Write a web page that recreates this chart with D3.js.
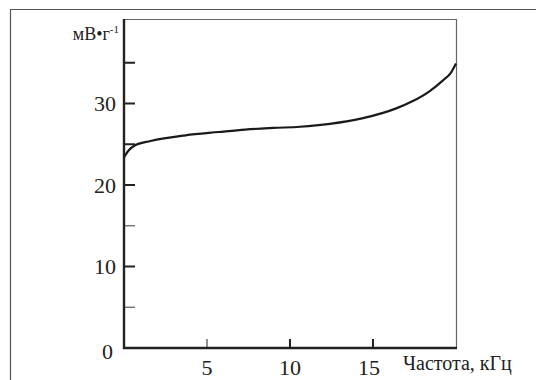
<!DOCTYPE html>
<html>
<head>
<meta charset="utf-8">
<script src="https://cdn.jsdelivr.net/npm/d3@7"></script>
<style>
  body { margin: 0; background: #fff; }
</style>
</head>
<body>
<div id="plot"></div>
<script>
// Frequency response
const freq   = [0,    0.3,  0.7,  1.6,  3.7,  5.7,  7.3,  9,    10.6,  12.4, 14.4, 16.4, 17.4, 18.4, 19.2, 19.7, 20];
const signal = [23.4, 24.3, 24.9, 25.4, 26.1, 26.5, 26.8, 27.0, 27.15, 27.5, 28.2, 29.4, 30.3, 31.5, 32.8, 33.8, 34.9];

const yLabelTicks = [0, 10, 20, 30];
const yMajorTicks = [10, 20, 25, 30, 35];
const yMinorTicks = [5, 15];
const xLabelTicks = [5, 10, 15];

const W = 536, H = 380;
const plotLeft = 124, plotRight = 456, plotTop = 19, plotBottom = 348;
const serif = "'Liberation Serif', 'Times New Roman', 'DejaVu Serif', serif";

const svg = d3.select("#plot")
  .append("svg")
  .attr("width", W)
  .attr("height", H)
  .attr("font-family", serif);

// outer frame (cut off on right and bottom)
svg.append("path")
  .attr("d", `M10.5,${H + 5}V9.5H${W + 5}`)
  .attr("fill", "none")
  .attr("stroke", "#555")
  .attr("stroke-width", 1.2);

const x = d3.scaleLinear().domain([0, 20]).range([plotLeft, plotRight]);
const y = d3.scaleLinear().domain([0, 40]).range([plotBottom, 22]);

// top and right thin frame
svg.append("path")
  .attr("d", `M${plotLeft},${plotTop + 0.5}H${plotRight + 0.5}V${plotBottom}`)
  .attr("fill", "none")
  .attr("stroke", "#666")
  .attr("stroke-width", 1.2);

// y ticks (inward)
svg.selectAll(".ymaj")
  .data(yMajorTicks)
  .enter().append("line")
  .attr("x1", plotLeft).attr("x2", plotLeft + 11)
  .attr("y1", d => y(d)).attr("y2", d => y(d))
  .attr("stroke", "#222").attr("stroke-width", 2);

svg.selectAll(".ymin")
  .data(yMinorTicks)
  .enter().append("line")
  .attr("x1", plotLeft).attr("x2", plotLeft + 11)
  .attr("y1", d => y(d)).attr("y2", d => y(d))
  .attr("stroke", "#666").attr("stroke-width", 1.3);

// x ticks (inward)
svg.selectAll(".xt")
  .data(xLabelTicks)
  .enter().append("line")
  .attr("x1", d => x(d)).attr("x2", d => x(d))
  .attr("y1", plotBottom).attr("y2", plotBottom - 9)
  .attr("stroke", d => d === 5 ? "#555" : "#222")
  .attr("stroke-width", d => d === 5 ? 1.3 : 2);

// main axes
svg.append("path")
  .attr("d", `M${plotLeft},${plotTop}V${plotBottom}H${plotRight + 1}`)
  .attr("fill", "none")
  .attr("stroke", "#222")
  .attr("stroke-width", 2.4);

// tick labels
svg.selectAll(".yl")
  .data(yLabelTicks)
  .enter().append("text")
  .attr("x", d => plotLeft - (d === 0 ? 11 : 8))
  .attr("y", d => y(d) + (d === 0 ? 3 : 0))
  .attr("dy", "0.35em")
  .attr("text-anchor", "end")
  .attr("font-size", 22)
  .attr("fill", "#222")
  .text(d => d);

svg.selectAll(".xl")
  .data(xLabelTicks)
  .enter().append("text")
  .attr("x", d => x(d) - (d === 15 ? 4 : 0))
  .attr("y", 375)
  .attr("text-anchor", "middle")
  .attr("font-size", 22)
  .attr("fill", "#222")
  .text(d => d);

// axis titles
svg.append("text")
  .attr("x", 403)
  .attr("y", 370)
  .attr("font-size", 20)
  .attr("fill", "#222")
  .text("Частота, кГц");

const yt = svg.append("text")
  .attr("x", 119)
  .attr("y", 40)
  .attr("text-anchor", "end")
  .attr("font-size", 18)
  .attr("fill", "#222");
yt.append("tspan").text("мВ•г");
yt.append("tspan").attr("dy", -7).attr("font-size", 11).text("-1");

// curve
const line = d3.line()
  .x((d, i) => x(freq[i]))
  .y(d => y(d))
  .curve(d3.curveMonotoneX);

svg.append("path")
  .datum(signal)
  .attr("d", line)
  .attr("fill", "none")
  .attr("stroke", "#1a1a1a")
  .attr("stroke-width", 2.2);
</script>
</body>
</html>
